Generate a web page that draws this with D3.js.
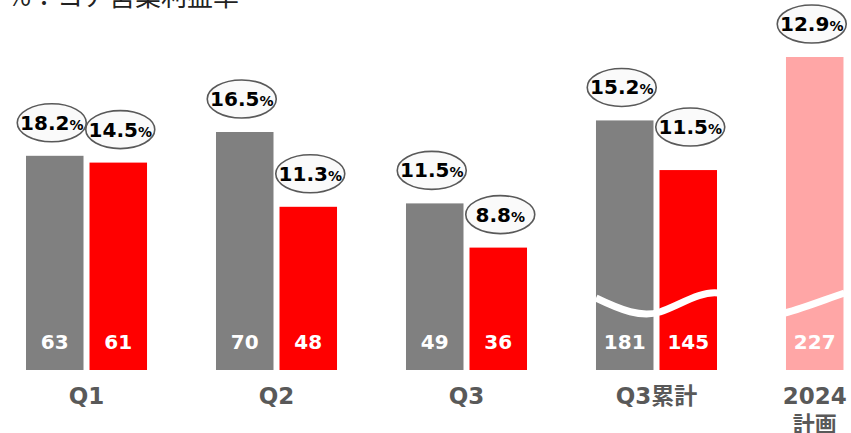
<!DOCTYPE html>
<html>
<head>
<meta charset="utf-8">
<script src="https://cdn.jsdelivr.net/npm/d3@7"></script>
<style>
  body { margin: 0; background: #fff; }
  svg { display: block; }
</style>
</head>
<body>
<div id="chart"></div>
<script>
// categories and series
const categories = ["Q1", "Q2", "Q3", "Q3累計", "2024計画"];
const catLabels = [["Q1"], ["Q2"], ["Q3"], ["Q3累計"], ["2024", "計画"]];
const prevValues = [63, 70, 49, 181];     // gray
const currValues = [61, 48, 36, 145];     // red
const planValues = [227];                 // pink (2024 plan)
const prevMargin = ["18.2", "16.5", "11.5", "15.2"];
const currMargin = ["14.5", "11.3", "8.8", "11.5"];
const planMargin = ["12.9"];
const brokenCats = ["Q3累計", "2024計画"];

const width = 851, height = 433;
const baseline = 370;

const svg = d3.select("#chart").append("svg")
  .attr("width", width)
  .attr("height", height);

// title (partly cut off at top)
svg.append("text")
  .attr("x", 7)
  .attr("y", 6)
  .style("font-family", "'Noto Sans CJK JP', sans-serif")
  .style("font-size", "26px")
  .style("fill", "#222")
  .text("%：コア営業利益率");

const x = d3.scaleBand()
  .domain(categories)
  .range([26, 907])
  .paddingInner(0.363)
  .paddingOuter(0);

const xs = d3.scaleBand()
  .domain(["prev", "curr"])
  .range([0, x.bandwidth()])
  .paddingInner(0.0945)
  .paddingOuter(0);

// normal scale and the compressed scale used for the broken bars
const y = d3.scaleLinear().domain([0, 100]).range([baseline, 30]);
const yBroken = d3.scaleLinear().domain([0, 227]).range([baseline, 57]);
const yFor = c => brokenCats.includes(c) ? yBroken : y;

const bars = [];
prevValues.forEach((v, i) => bars.push({ cat: categories[i], slot: "prev", v, m: prevMargin[i], color: "#808080" }));
currValues.forEach((v, i) => bars.push({ cat: categories[i], slot: "curr", v, m: currMargin[i], color: "#ff0000" }));
planValues.forEach((v, i) => bars.push({ cat: categories[4 + i], slot: "prev", v, m: planMargin[i], color: "#ffa6a6" }));

bars.forEach(d => {
  d.x = x(d.cat) + xs(d.slot);
  d.top = yFor(d.cat)(d.v);
});

svg.selectAll("rect.bar")
  .data(bars)
  .enter()
  .append("rect")
  .attr("class", "bar")
  .attr("x", d => d.x)
  .attr("y", d => d.top)
  .attr("width", xs.bandwidth())
  .attr("height", d => baseline - d.top)
  .attr("fill", d => d.color);

// wavy white break lines
const gx = x("Q3累計");
const px = x("2024計画");
const bw = x.bandwidth();
const sw = xs.bandwidth();
svg.append("path")
  .attr("d", `M${gx},${baseline - 72} C${gx + 25},${baseline - 60} ${gx + 45},${baseline - 52} ${gx + 64},${baseline - 58} C${gx + 84},${baseline - 65} ${gx + 104},${baseline - 79} ${gx + bw + 1},${baseline - 77}`)
  .attr("fill", "none")
  .attr("stroke", "#fff")
  .attr("stroke-width", 7);
svg.append("path")
  .attr("d", `M${px - 1},${baseline - 57} C${px + 18},${baseline - 62} ${px + 38},${baseline - 70} ${px + sw + 1},${baseline - 77}`)
  .attr("fill", "none")
  .attr("stroke", "#fff")
  .attr("stroke-width", 7);

// value labels inside bars
svg.selectAll("text.val")
  .data(bars)
  .enter()
  .append("text")
  .attr("class", "val")
  .attr("x", d => d.x + xs.bandwidth() / 2)
  .attr("y", baseline - 21)
  .attr("text-anchor", "middle")
  .style("font-family", "'DejaVu Sans', sans-serif")
  .style("font-weight", "bold")
  .style("font-size", "20px")
  .style("fill", "#fff")
  .text(d => d.v);

// margin bubbles
const lift = { "Q3累計-curr": 10 };
const bub = svg.selectAll("g.bubble")
  .data(bars)
  .enter()
  .append("g")
  .attr("class", "bubble")
  .attr("transform", d => {
    const cx = d.x + xs.bandwidth() / 2 + (d.slot === "prev" ? -3 : 2);
    const cy = d.top - 33 - (lift[d.cat + "-" + d.slot] || 0);
    return `translate(${cx},${cy})`;
  });

bub.append("ellipse")
  .attr("rx", 34.5)
  .attr("ry", 19)
  .attr("fill", "#fafafa")
  .attr("stroke", "#595959")
  .attr("stroke-width", 1.6);

const bt = bub.append("text")
  .attr("y", 7)
  .attr("text-anchor", "middle")
  .style("font-family", "'DejaVu Sans', sans-serif")
  .style("font-weight", "bold")
  .style("fill", "#000");
bt.append("tspan").style("font-size", "20px").text(d => d.m);
bt.append("tspan").style("font-size", "14px").text("%");

// category labels
const catG = svg.selectAll("text.cat")
  .data(categories)
  .enter()
  .append("text")
  .attr("class", "cat")
  .attr("text-anchor", "middle")
  .style("font-family", "'DejaVu Sans', 'Noto Sans CJK JP', sans-serif")
  .style("font-weight", "bold")
  .style("fill", "#595959");

catG.each(function(c, i) {
  const lines = catLabels[i];
  const cx = brokenCats[1] === c ? x(c) + xs.bandwidth() / 2 : x(c) + x.bandwidth() / 2;
  lines.forEach((t, j) => {
    d3.select(this).append("tspan")
      .attr("x", cx)
      .attr("y", j === 0 ? 404 : 432)
      .style("font-size", j === 0 ? "23px" : "22px")
      .text(t);
  });
});
</script>
</body>
</html>
